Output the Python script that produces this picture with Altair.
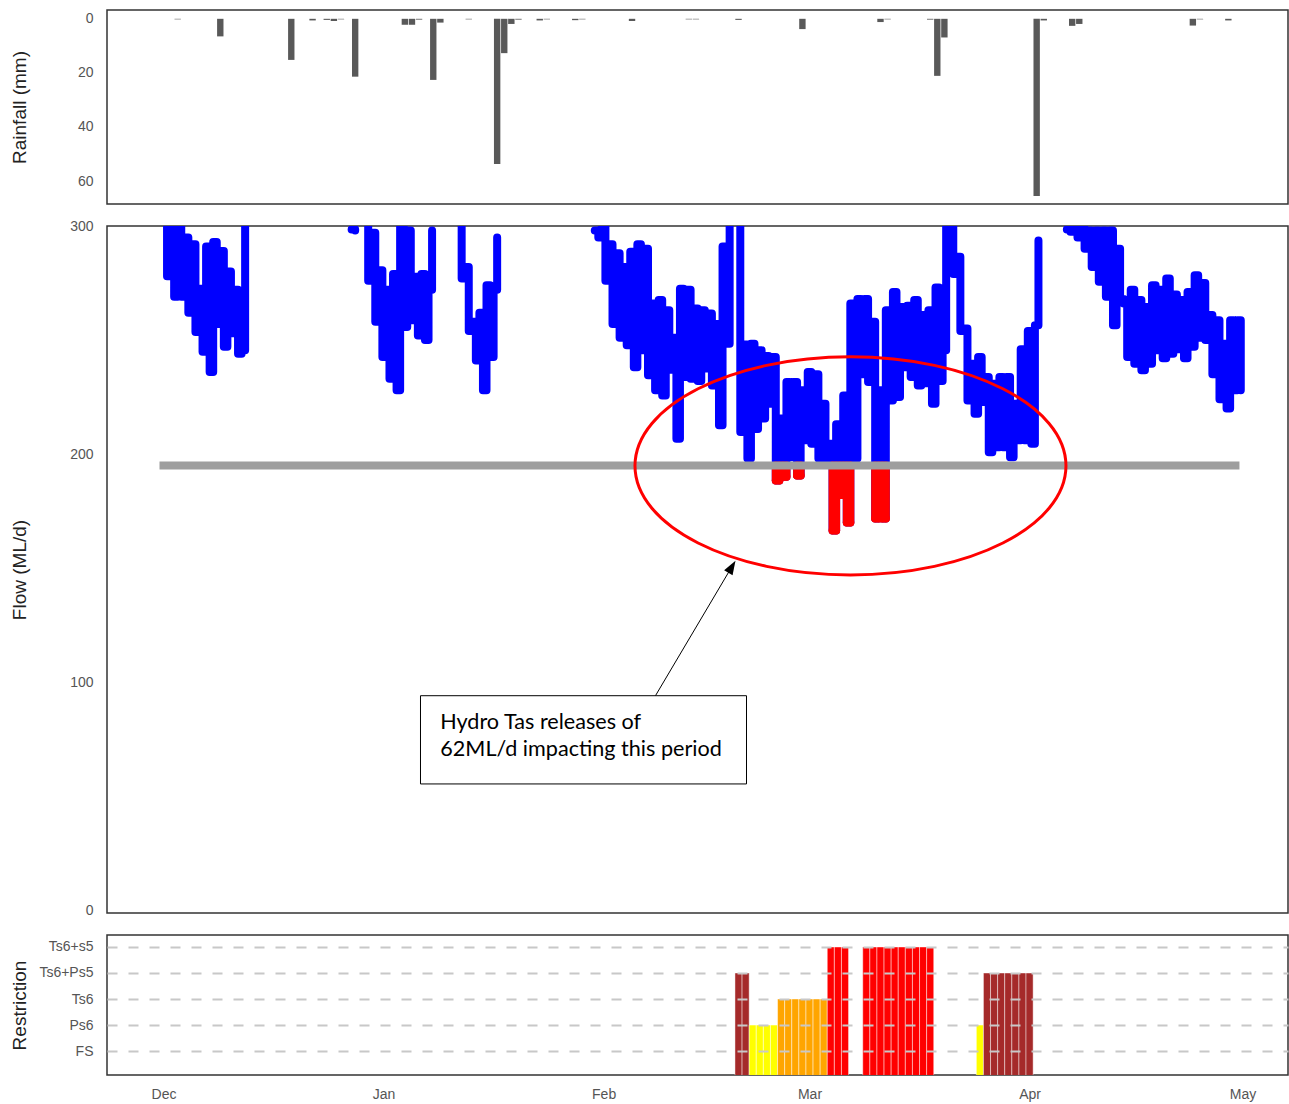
import altair as alt
import pandas as pd

# ---------------- data ----------------
# Daily rainfall (mm)
rain_dates = ["2019-12-03", "2019-12-09", "2019-12-19", "2019-12-22", "2019-12-24", "2019-12-25",
              "2019-12-26", "2019-12-28", "2020-01-04", "2020-01-05", "2020-01-06", "2020-01-08",
              "2020-01-09", "2020-01-13", "2020-01-17", "2020-01-18", "2020-01-19", "2020-01-20",
              "2020-01-23", "2020-01-24", "2020-01-28", "2020-01-29", "2020-02-05", "2020-02-13",
              "2020-02-14", "2020-02-20", "2020-02-29", "2020-03-11", "2020-03-12", "2020-03-18",
              "2020-03-19", "2020-03-20", "2020-04-02", "2020-04-03", "2020-04-07", "2020-04-08",
              "2020-04-24", "2020-04-25", "2020-04-29"]
rain_mm = [0.2, 6.5, 15.2, 0.6, 0.4, 0.8, 0.2, 21.4, 2.2, 2.2, 0.3, 22.6, 1.4, 0.2, 53.7, 12.7,
           1.9, 0.3, 0.6, 0.2, 0.5, 0.2, 0.8, 0.2, 0.2, 0.4, 3.8, 1.2, 0.2, 0.3, 21.1, 6.9, 65.5,
           0.6, 2.6, 1.9, 2.5, 0.2, 0.6]

# Flow (ML/d) at 12-hour steps; each run is an unbroken stretch of record
flow_run1_start = "2019-12-01T00:00"
flow_run1 = [310, 278, 300, 269, 300, 269, 295, 262, 292, 253.5, 272.5, 244.8, 291, 236,
             293, 257, 289, 247, 280, 253, 272, 244, 245.5, 310]
flow_run2_start = "2019-12-27T12:00"
flow_run2 = [298.5, 298]
flow_run3_start = "2019-12-29T08:00"
flow_run3 = [310, 276, 297, 258, 280.6, 242.6, 272, 233, 279, 228, 310, 255.7, 298, 258.7,
             277.7, 252, 279, 250, 272, 298]
flow_run4_start = "2020-01-11T12:00"
flow_run4 = [310, 277, 282, 254, 258, 241, 262, 228, 274, 242.6, 272, 295]
flow_run5_start = "2020-01-30T18:00"
flow_run5 = [298, 295, 301, 276, 292, 257, 288, 251, 282, 247.7, 288.7, 238, 292, 245.5,
             290, 234.5, 266, 228, 267.5, 225.7, 263, 237, 251, 206.7, 272.5, 233.8, 272, 233,
             263.8, 232, 263, 237.5, 261.6, 230, 257, 212.6, 291, 248.4, 310, 310, 310, 209.6,
             248, 198, 248.4, 211, 245.5, 215.6, 243, 222, 242.6, 188.4, 215.6, 190, 231.6, 198.6,
             231.6, 190.6, 228, 206, 236, 204.5, 235, 198, 222, 198, 204.5, 166.5, 213, 182,
             225.7, 170, 266, 198, 268, 235, 268, 231.6, 258, 171.7, 228, 171.7, 263, 223.5,
             271, 225, 264.5, 238, 265, 233.8, 267.5, 230, 261, 231, 263, 222, 273, 232,
             245.5, 310]
flow_run6_start = "2020-03-20T18:00"
flow_run6 = [310, 279, 286.5, 254, 255, 223.5, 239.6, 217.7, 242.6, 222.8, 233.8, 200.8,
             230.8, 203, 233.8, 203, 233.8, 198.6, 222, 206, 246, 206, 254, 204.5, 256.5, 293.6]
flow_run7_start = "2020-04-06T06:00"
flow_run7 = [298.5, 297.5, 299, 295, 299, 290, 298, 282, 298, 275.5, 298, 269, 298, 256.5,
             290, 268, 266, 242.6, 272, 239.6, 267.5, 236.7, 264.5, 239.6, 274, 245.5, 272, 242,
             277, 244, 270, 246, 267.5, 242, 271, 247, 278.4, 251, 275, 250, 261, 235,
             258.7, 224, 248.4, 220, 258.7, 228, 258.7, 228]

THRESHOLD = 195
threshold_span = ["2019-12-01T00:00", "2020-04-30T00:00"]

# Restriction level per day
level_names = ["FS", "Ps6", "Ts6", "Ts6+Ps5", "Ts6+s5"]
level_colors = ["#ffffff", "#ffff00", "#ffa500", "#a52a2a", "#ff0000"]
restriction_dates = ["2020-02-20", "2020-02-21",
                     "2020-02-22", "2020-02-23", "2020-02-24", "2020-02-25",
                     "2020-02-26", "2020-02-27", "2020-02-28", "2020-02-29", "2020-03-01",
                     "2020-03-02", "2020-03-03",
                     "2020-03-04", "2020-03-05", "2020-03-06",
                     "2020-03-09", "2020-03-10", "2020-03-11", "2020-03-12", "2020-03-13",
                     "2020-03-14", "2020-03-15", "2020-03-16", "2020-03-17", "2020-03-18",
                     "2020-03-25",
                     "2020-03-26", "2020-03-27", "2020-03-28", "2020-03-29", "2020-03-30",
                     "2020-03-31", "2020-04-01"]
restriction_levels = (["Ts6+Ps5"] * 2 + ["Ps6"] * 4 + ["Ts6"] * 7 + ["Ts6+s5"] * 3
                      + ["Ts6+s5"] * 10 + ["Ps6"] + ["Ts6+Ps5"] * 7)

month_starts = [(2019, 12), (2020, 1), (2020, 2), (2020, 3), (2020, 4), (2020, 5)]

note_lines = ["Hydro Tas releases of", "62ML/d impacting this period"]

# ---------------- frames ----------------
runs = [(flow_run1_start, flow_run1), (flow_run2_start, flow_run2), (flow_run3_start, flow_run3),
        (flow_run4_start, flow_run4), (flow_run5_start, flow_run5), (flow_run6_start, flow_run6),
        (flow_run7_start, flow_run7)]
rows = []
for run_id, (start, vals) in enumerate(runs):
    t0 = pd.Timestamp(start)
    for i, v in enumerate(vals):
        rows.append({"run": run_id, "t": t0 + i * pd.Timedelta(hours=12), "flow": v})
flow_df = pd.DataFrame(rows)

# parts of the stepped trace that dip under the threshold, drawn in red
seg_rows = []
for run_id, g in flow_df.groupby("run"):
    g = g.reset_index(drop=True)
    for i in range(len(g) - 1):
        a, b = g.loc[i], g.loc[i + 1]
        if a["flow"] < THRESHOLD:          # flat part of the step
            seg_rows.append({"t": a["t"], "t2": b["t"], "y": a["flow"], "y2": a["flow"]})
        if min(a["flow"], b["flow"]) < THRESHOLD:   # riser of the step
            seg_rows.append({"t": b["t"], "t2": b["t"],
                             "y": min(a["flow"], THRESHOLD), "y2": min(b["flow"], THRESHOLD)})
red_df = pd.DataFrame(seg_rows)

rain_df = pd.DataFrame({"date": pd.to_datetime(rain_dates), "mm": rain_mm})
rain_df["start"] = rain_df["date"] - pd.Timedelta(hours=10.8)
rain_df["end"] = rain_df["date"] + pd.Timedelta(hours=10.8)

restr_df = pd.DataFrame({"date": pd.to_datetime(restriction_dates), "level": restriction_levels})
restr_df["rank"] = restr_df["level"].map({n: i + 1 for i, n in enumerate(level_names)})
restr_df["start"] = restr_df["date"] - pd.Timedelta(hours=12)
restr_df["end"] = restr_df["date"] + pd.Timedelta(hours=12)

thr_df = pd.DataFrame({"t": [pd.Timestamp(threshold_span[0])],
                       "t2": [pd.Timestamp(threshold_span[1])], "v": [THRESHOLD]})
ellipse_df = pd.DataFrame({"t": [pd.Timestamp("2020-03-06T18:30")], "v": [194.8]})
arrow_df = pd.DataFrame({"t": [pd.Timestamp("2020-02-08T07:12")], "v": [94.0],
                         "t2": [pd.Timestamp("2020-02-19T01:40")], "v2": [150.6]})
head_df = pd.DataFrame({"t": [pd.Timestamp("2020-02-19T01:40")], "v": [150.6]})
box_df = pd.DataFrame({"t": [pd.Timestamp("2020-01-06T04:50")], "t2": [pd.Timestamp("2020-02-21T03:00")],
                       "v": [94.0], "v2": [55.3]})
note_df = pd.DataFrame({"t": [pd.Timestamp("2020-01-08T23:45")], "v": [79.4],
                        "text": ["\n".join(note_lines)]})

# ---------------- scales / axes ----------------
W = 1181
X_DOMAIN = [alt.DateTime(year=2019, month=11, date=23, hours=1),
            alt.DateTime(year=2020, month=5, date=7, hours=9, minutes=40)]
xs = alt.Scale(domain=X_DOMAIN)
TITLE_X = -88


def xenc(field, axis=None):
    return alt.X(field, type="temporal", scale=xs, axis=axis)


# ---- rainfall panel
rain_axis = alt.Axis(values=[0, 20, 40, 60], title="Rainfall (mm)", titleX=TITLE_X,
                     titleBaseline="middle")
rain = alt.Chart(rain_df).mark_rect(color="#595959").encode(
    x=xenc("start"),
    x2="end:T",
    y=alt.Y("mm:Q", scale=alt.Scale(domain=[-3.26, 68.5], reverse=True, nice=False, zero=False),
            axis=rain_axis),
    y2=alt.datum(0),
).properties(width=W, height=194)

# ---- flow panel
flow_scale = alt.Scale(domain=[-1.3, 300], nice=False, zero=False)
flow_axis = alt.Axis(values=[0, 100, 200, 300], title="Flow (ML/d)", titleX=TITLE_X,
                     titleBaseline="middle")


def fy(field):
    return alt.Y(field, type="quantitative", scale=flow_scale, axis=flow_axis)


LW = 8
blue = alt.Chart(flow_df).mark_line(color="#0000ff", strokeWidth=LW, strokeCap="round",
                                    strokeJoin="round", interpolate="step-after",
                                    clip=True).encode(
    x=xenc("t"), y=fy("flow"), detail="run:N", order="t:T")

red = alt.Chart(red_df).mark_rule(color="#ff0000", strokeWidth=LW, strokeCap="round",
                                  clip=True).encode(
    x=xenc("t"), x2="t2:T", y=fy("y"), y2="y2:Q")

thr = alt.Chart(thr_df).mark_rule(color="#9e9e9e", strokeWidth=8, strokeCap="square").encode(
    x=xenc("t"), x2="t2:T", y=fy("v"))

ELLIPSE = ("M-1,0C-1,-0.2795,-0.5523,-0.506,0,-0.506C0.5523,-0.506,1,-0.2795,1,0"
           "C1,0.2795,0.5523,0.506,0,0.506C-0.5523,0.506,-1,0.2795,-1,0Z")
ellipse = alt.Chart(ellipse_df).mark_point(shape=ELLIPSE, size=431 * 431, filled=False,
                                           stroke="#ff0000", strokeWidth=3, opacity=1).encode(
    x=xenc("t"), y=fy("v"))

arrow = alt.Chart(arrow_df).mark_rule(color="black", strokeWidth=1).encode(
    x=xenc("t"), x2="t2:T", y=fy("v"), y2="v2:Q")

TRIANGLE = "M0,-1L0.7,1L-0.7,1Z"
head = alt.Chart(head_df).mark_point(shape=TRIANGLE, size=196, angle=30.65, filled=True,
                                     color="black", opacity=1).encode(
    x=xenc("t"), y=fy("v"))

box = alt.Chart(box_df).mark_rect(fill="white", stroke="black", strokeWidth=1).encode(
    x=xenc("t"), x2="t2:T", y=fy("v"), y2="v2:Q")

note = alt.Chart(note_df).mark_text(align="left", baseline="alphabetic", font="Lato",
                                    fontSize=21.6, lineBreak="\n", lineHeight=26.7,
                                    color="black").encode(
    x=xenc("t"), y=fy("v"), text="text:N")

flow = alt.layer(blue, red, thr, ellipse, arrow, head, box, note).properties(width=W, height=687)

# ---- restriction panel
label_expr = "[" + ",".join("'%s'" % n for n in level_names) + "][datum.value - 1]"
restr_axis = alt.Axis(values=[1, 2, 3, 4, 5], labelExpr=label_expr, title="Restriction",
                      titleX=TITLE_X, titleBaseline="middle", grid=True, gridDash=[10, 11],
                      gridColor="#c8c8c8", gridWidth=2, zindex=1)
x_axis = alt.Axis(values=[alt.DateTime(year=y, month=m, date=1) for y, m in month_starts],
                  format="%b", title=None, labelPadding=12)
restr = alt.Chart(restr_df).mark_rect(stroke="white", strokeWidth=1, strokeOpacity=0.45,
                                      clip=True).encode(
    x=xenc("start", x_axis),
    x2="end:T",
    y=alt.Y("rank:Q", scale=alt.Scale(domain=[0.08, 5.46], nice=False, zero=False),
            axis=restr_axis),
    y2=alt.datum(0),
    color=alt.Color("level:N", scale=alt.Scale(domain=level_names, range=level_colors),
                    legend=None),
).properties(width=W, height=140)

chart = alt.vconcat(rain, flow, restr, spacing=22, bounds="flush").properties(
    padding={"left": 9, "top": 9, "right": 0, "bottom": 4},
    background="white",
).configure_view(
    stroke="#333333", strokeWidth=1.5
).configure_axis(
    labelFont="Liberation Sans", titleFont="Liberation Sans", labelFontSize=14,
    titleFontSize=19, labelColor="#555555", titleColor="#222222", titleFontWeight="normal",
    ticks=False, tickSize=0, domain=False, grid=False, labelPadding=14,
)

chart.save("out.html", embed_options={"renderer": "svg", "actions": False})
